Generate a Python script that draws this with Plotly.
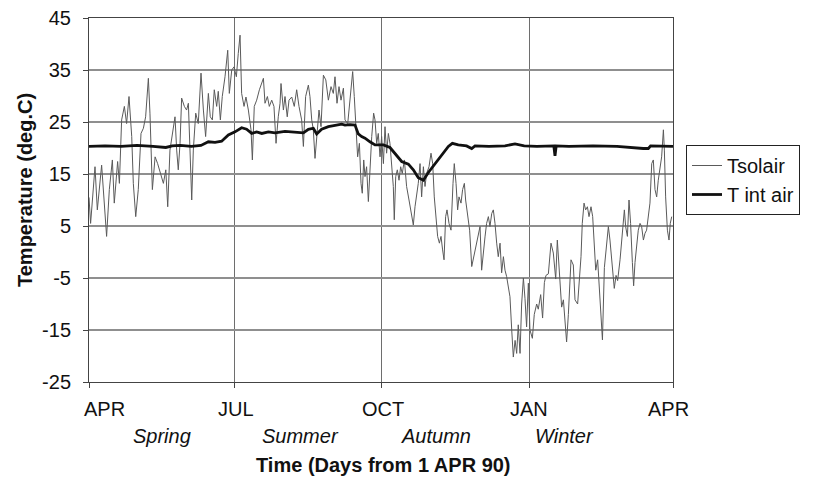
import plotly.graph_objects as go

# Daily exterior sol-air temperature (days from 1 Apr 1990, deg C)
tsol_days = [0, 1, 3.75, 5.2, 7.9, 9.6, 11.0, 12.7, 14.6, 15.8, 17.9, 19.0, 20.4, 22.1, 23.5, 25.0,
             26.7, 27.7, 29.2, 30.8, 32.5, 34.0, 35.4, 37.1, 38.1, 39.6, 41.3, 42.9, 45.0, 46.5,
             48.0, 49.2, 50.6, 52.3, 53.75, 54.8, 55.8, 56.9, 57.9, 59.6, 61.0, 62.1, 63.1, 64.2,
             65.2, 66.7, 68.3, 70.0, 71.5, 72.9, 74.6, 75.8, 77.1, 78.3, 79.8, 80.8, 82.1, 83.3,
             85.0, 86.7, 87.7, 89.2, 90.6, 92.1, 93.3, 94.4, 95.4, 96.9, 98.1, 99.6, 101.25, 102.1,
             103.3, 104.8, 106.5, 108.0, 109.0, 110.0, 111.5, 112.7, 114.2, 115.6, 116.25, 116.9,
             118.3, 119.4, 120.0, 121.5, 122.5, 123.9, 125.0, 126.7, 128.3, 129.8, 131.25, 132.9,
             134.0, 135.4, 137.1, 138.1, 139.2, 140.2, 141.25, 142.3, 143.75, 145.0, 146.5, 148.0,
             149.6, 151.25, 152.7, 153.75, 155.0, 156.25, 157.5, 159.0, 160.0, 161.7, 163.1, 164.8,
             165.8, 166.9, 167.9, 169.0, 170.0, 170.8, 171.7, 172.5, 173.5, 174.6, 175.6, 176.7,
             177.9, 178.75, 179.8, 180.8, 181.9, 182.9, 184.0, 185.0, 186.0, 187.1, 188.1, 189.2,
             190.2, 190.8, 191.7, 192.7, 193.75, 194.8, 195.8, 197.1, 198.5, 200.0, 201.25, 202.7,
             203.75, 204.8, 205.8, 206.9, 207.9, 209.0, 210.0, 211.0, 212.5, 213.75, 214.8, 215.8,
             216.9, 217.9, 219.0, 220.0, 221.0, 221.9, 222.9, 223.75, 225.0, 226.25, 227.5, 228.3,
             229.4, 230.4, 231.25, 232.5, 233.5, 234.6, 235.4, 236.7, 237.9, 239.2, 240.4, 241.7,
             242.9, 244.4, 245.4, 246.5, 247.5, 248.5, 249.6, 250.6, 251.7, 252.7, 253.75, 254.8,
             255.8, 256.9, 257.9, 259.0, 260.0, 261.0, 262.1, 263.1, 264.2, 265.2, 266.3, 267.3,
             268.3, 269.4, 270.4, 271.5, 272.5, 273.5, 274.6, 275.6, 277.1, 278.3, 279.8, 280.8,
             282.3, 283.5, 284.6, 285.6, 287.1, 288.75, 290.2, 291.7, 292.7, 293.75, 295.4, 296.5,
             297.5, 298.5, 299.6, 301.25, 302.7, 303.75, 305.4, 306.25, 307.5, 308.3, 309.4, 310.4,
             311.5, 312.5, 313.75, 314.8, 315.8, 316.7, 317.9, 319.0, 320.0, 320.9, 322.1, 323.5,
             324.6, 325.6, 327.1, 328.3, 329.4, 330.4, 331.9, 332.9, 334.6, 335.4, 336.5, 337.5,
             338.5, 339.6, 340.4, 341.25, 342.3, 343.3, 344.4, 345.4, 346.5, 347.5, 348.5, 349.6,
             350.6, 351.7, 352.7, 353.75, 354.8, 355.8, 356.9, 357.9, 359.0, 359.6, 360.4, 361.5,
             362.5, 363.3, 364.2]
tsol_vals = [10.5, 5.5, 16.4, 8.1, 16.7, 9.4, 3.0, 12.0, 17.7, 9.4, 17.4, 13.2, 25.4, 28.0, 24.7, 29.9,
             22.2, 13.2, 6.8, 12.0, 22.8, 23.8, 26.0, 33.4, 26.7, 12.0, 18.3, 17.0, 14.5, 13.2,
             15.8, 8.7, 19.6, 22.8, 26.0, 19.6, 15.8, 20.9, 29.6, 28.0, 27.3, 28.6, 19.6, 10.0,
             19.6, 26.7, 24.7, 34.4, 27.3, 22.2, 30.5, 26.0, 25.4, 31.2, 28.0, 30.9, 25.4, 29.9,
             33.7, 38.8, 30.5, 35.0, 35.6, 33.7, 38.2, 41.7, 30.5, 28.0, 29.8, 27.3, 23.5, 17.7,
             28.0, 29.2, 31.2, 32.4, 33.4, 28.6, 29.9, 28.0, 29.2, 28.0, 23.5, 20.9,
             26.0, 28.6, 32.4, 27.3, 29.9, 26.0, 29.2, 29.8, 28.0, 31.2, 28.0, 25.4,
             20.3, 29.9, 32.1, 29.9, 25.4, 23.5, 18.0, 22.2, 27.3, 24.1, 34.0, 33.1,
             29.2, 31.8, 30.5, 33.7, 28.6, 31.8, 29.2, 31.5, 25.4, 24.7, 29.2, 34.7,
             29.9, 22.2, 18.3, 20.9, 13.2, 11.3, 17.7, 14.5, 16.4, 9.7, 16.4, 22.2,
             26.7, 25.4, 20.9, 22.8, 18.3, 22.2, 17.0, 24.1, 19.0, 22.8, 20.9, 16.4,
             12.6, 6.2, 14.5, 15.8, 13.8, 16.4, 15.1, 17.7, 12.6, 10.0, 7.4, 5.2,
             8.7, 10.6, 13.2, 17.0, 10.6, 16.4, 12.6, 15.1, 16.4, 19.0, 17.0, 10.6,
             5.5, 3.0, 1.7, 3.0, 0.4, -1.5, 6.8, 8.1, 5.5, 4.2, 13.2, 17.0,
             13.2, 8.1, 10.6, 9.4, 12.0, 13.2, 10.0, 6.8, 4.2, -2.8, -1.0, 1.0,
             2.3, 4.9, -3.5, 0.4, 2.9, 5.5, 6.8, 4.9, 7.4, 8.1, 5.5, 1.7,
             -0.9, 1.7, -4.0, -0.9, -3.5, -4.7, -6.7, -8.6, -15.0, -20.2, -17.0, -19.5,
             -14.0, -19.5, -10.0, -5.0, -9.0, -14.4, -6.0, -15.0, -16.6, -12.0, -10.0, -11.0,
             -8.2, -12.7, -5.9, -4.5, -4.2, 1.7, -0.2, -5.2, 2.3, -2.2, -10.6, -9.2,
             -14.4, -17.3, -12.0, -1.5, -2.5, -9.2, -10.0, -6.7, -0.9, 5.5, 9.4, 8.1,
             8.7, 6.8, 8.7, 6.8, 0.4, -3.5, -1.5, -6.7, -12.7, -16.9, -3.0, 1.7,
             4.9, 2.3, -3.5, -7.0, -4.5, -5.5, -1.5, 1.7, 8.1, 4.9, 3.0, 10.0,
             5.5, -2.0, -6.5, -2.0, 1.7, 4.2, 5.5, 4.9, 2.3, 3.6, 4.2, 6.8,
             9.4, 17.0, 17.7, 12.0, 10.6, 13.8, 15.8, 18.3, 23.5, 19.6, 10.6, 4.2,
             2.3, 5.5, 6.8]

# Interior air temperature (deg C)
tint_days = [0, 10, 20, 30, 40, 48, 52, 57, 64, 70, 74.6, 78.75, 82.9, 87.1, 91.25, 95.4, 98.5,
             101.7, 104.8, 108, 112.1, 116.25, 122.5, 128.75, 134, 137.1, 140.2, 142.3, 145.4,
             149.6, 153.75, 157.9, 160, 163.1, 166.25, 168.3, 170.4, 172.5, 175.6, 178.75, 181.9,
             184, 188.1, 191.25, 195.4, 199.6, 202.7, 205.8, 209, 212.1, 216.25, 220.4, 224.6,
             227.1, 230.8, 236, 239.2, 241.25, 250, 260, 266.25, 272, 280, 290.5, 291.25, 292,
             300, 315, 330, 346.4, 349.6, 351, 358, 365]
tint_vals = [20.3, 20.4, 20.3, 20.5, 20.3, 20.1, 20.4, 20.5, 20.3, 20.5, 21.2, 21.1, 21.3, 22.5,
             23.1, 23.9, 23.6, 22.8, 23.1, 22.8, 23.1, 22.9, 23.2, 23.1, 22.9, 23.6, 23.8, 22.7,
             23.6, 24.1, 24.4, 24.6, 24.4, 24.5, 24.4, 22.7, 22.2, 21.9, 21.2, 20.6, 20.6, 20.6,
             20.1, 19.0, 17.4, 16.9, 15.8, 14.3, 13.8, 15.3, 17.0, 18.7, 20.3, 20.9, 20.6, 20.4,
             19.9, 20.4, 20.3, 20.4, 20.8, 20.4, 20.3, 20.4, 18.5, 20.4, 20.3, 20.4, 20.3, 19.9,
             19.9, 20.4, 20.3, 20.3]

tick_days = [0, 91, 183, 275, 365]
month_labels = ["APR", "JUL", "OCT", "JAN", "APR"]
season_labels = ["Spring", "Summer", "Autumn", "Winter"]
temp_ticks = [-25, -15, -5, 5, 15, 25, 35, 45]
temp_tick_text = ["-25", "-15", "-5", "5", "15", "25", "35", "45"]

W, H = 813, 482
L, R, T, B = 89, 140, 18, 100
PW, PH = W - L - R, H - T - B
FONT = "Liberation Sans, Arial, sans-serif"


def px_x(px):
    return (px - L) / PW


def px_y(py):
    return (H - B - py) / PH


fig = go.Figure()
fig.add_trace(go.Scatter(x=tsol_days, y=tsol_vals, mode="lines", name="Tsolair",
                         line=dict(color="#5a5a5a", width=1)))
fig.add_trace(go.Scatter(x=tint_days, y=tint_vals, mode="lines", name="T int air",
                         line=dict(color="#111111", width=2.8)))

annotations = []
# month labels under the axis
month_px = [104, 236, 383, 529, 668]
for lab, px in zip(month_labels, month_px):
    annotations.append(dict(text=lab, x=px_x(px), y=px_y(409), xref="paper", yref="paper",
                            showarrow=False, xanchor="center", yanchor="middle",
                            font=dict(family=FONT, size=20, color="#111")))
season_px = [162, 300, 436, 564]
for lab, px in zip(season_labels, season_px):
    annotations.append(dict(text="<i>" + lab + "</i>", x=px_x(px), y=px_y(436), xref="paper",
                            yref="paper", showarrow=False, xanchor="center", yanchor="middle",
                            font=dict(family=FONT, size=20, color="#111")))
annotations.append(dict(text="<b>Time (Days from 1 APR 90)</b>", x=px_x(383), y=px_y(465),
                        xref="paper", yref="paper", showarrow=False, xanchor="center",
                        yanchor="middle", font=dict(family=FONT, size=20, color="#111")))
annotations.append(dict(text="<b>Temperature (deg.C)</b>", x=px_x(25), y=px_y(190),
                        xref="paper", yref="paper", showarrow=False, textangle=-90,
                        xanchor="center", yanchor="middle",
                        font=dict(family=FONT, size=20, color="#111")))

fig.update_layout(
    width=W, height=H,
    margin=dict(l=L, r=R, t=T, b=B, autoexpand=False),
    paper_bgcolor="white", plot_bgcolor="white",
    font=dict(family=FONT, size=20, color="#111"),
    showlegend=True,
    legend=dict(xref="container", yref="container", x=686 / W, y=1 - 145 / H,
                xanchor="left", yanchor="top",
                bordercolor="#222", borderwidth=1, bgcolor="white",
                font=dict(family=FONT, size=20, color="#111"),
                tracegroupgap=0, itemwidth=30),
    annotations=annotations,
    xaxis=dict(range=[0, 365], tickvals=tick_days, showticklabels=False,
               showgrid=True, gridcolor="#6e6e6e", gridwidth=1,
               showline=True, linecolor="#444", linewidth=1, mirror=True,
               ticks="outside", ticklen=5, tickcolor="#444", zeroline=False),
    yaxis=dict(range=[-25, 45], tickvals=temp_ticks, ticktext=temp_tick_text,
               showgrid=True, gridcolor="#8f8f8f", gridwidth=1.5,
               showline=True, linecolor="#444", linewidth=1, mirror=True,
               ticks="outside", ticklen=5, tickcolor="#444", zeroline=False,
               ticklabelstandoff=8, tickfont=dict(family=FONT, size=20, color="#111")),
)

fig.write_html("out.html")
